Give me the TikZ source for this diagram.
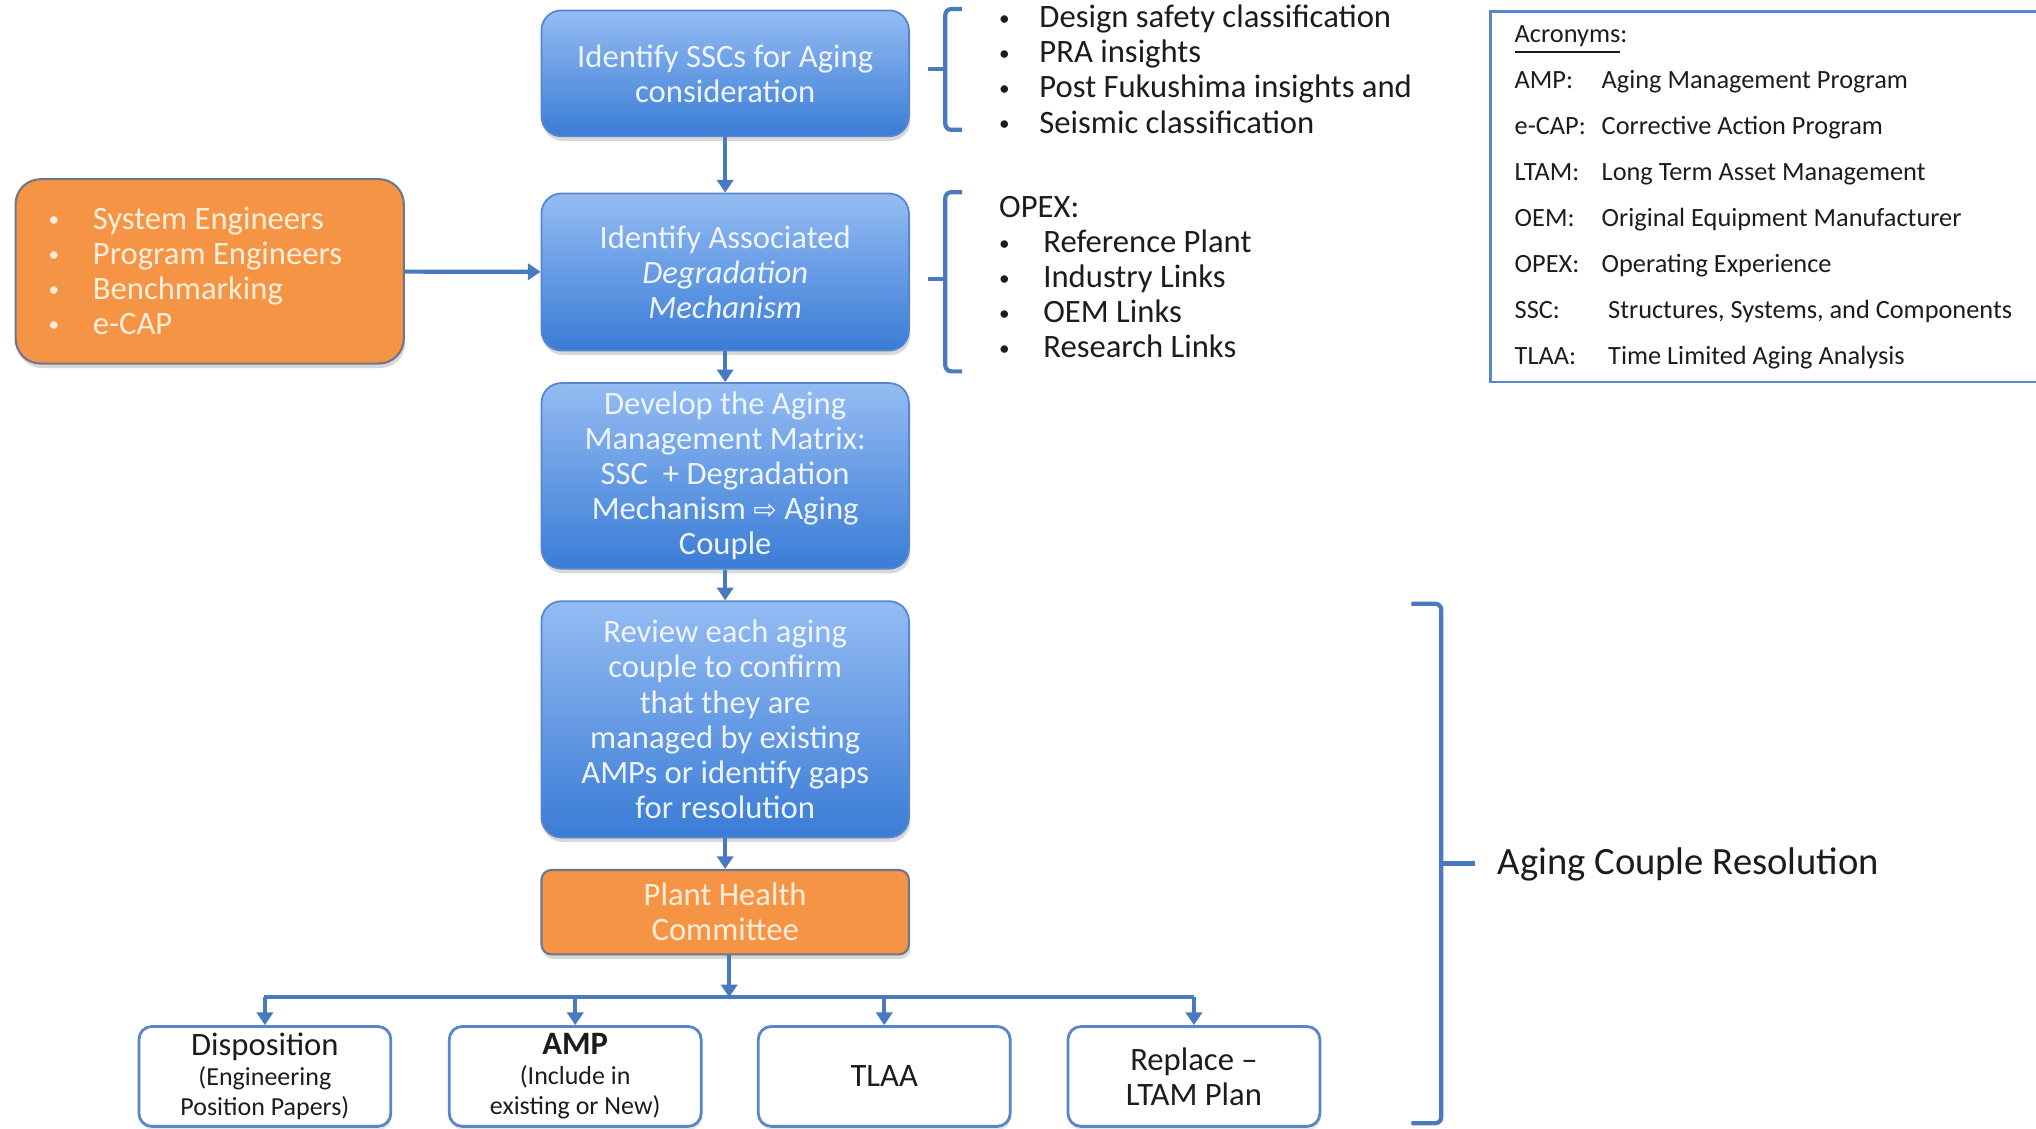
\documentclass[tikz,border=0pt]{standalone}
\usepackage{fontspec}
\usepackage{graphicx}
\setmainfont{Carlito}
\newfontfamily\symfont{DejaVu Sans}
\usetikzlibrary{arrows.meta,shadows,calc}
\definecolor{blueT}{RGB}{148,188,243}
\definecolor{blueB}{RGB}{58,124,214}
\definecolor{blueD}{RGB}{88,134,204}
\definecolor{conn}{RGB}{72,122,192}
\definecolor{orng}{RGB}{246,148,70}
\definecolor{orngD}{RGB}{108,118,140}
\definecolor{boxtxt}{RGB}{238,244,253}
\definecolor{otxt}{RGB}{253,238,218}
\definecolor{txt}{RGB}{28,28,28}
\newcommand{\smbul}{\raisebox{0.15ex}{\scalebox{0.65}{\textbullet}}}
\begin{document}
\begin{tikzpicture}[x=0.013cm,y=-0.013cm,
  mainf/.style={font=\fontsize{9.3}{10}\selectfont},
  bluebox/.style={draw=blueD, line width=0.5pt, rounded corners=0.2cm,
    top color=blueT, bottom color=blueB, text=boxtxt, align=center,
    inner sep=2pt, mainf, minimum width=3.679cm,
    drop shadow={opacity=0.3, shadow xshift=0.4pt, shadow yshift=-1.3pt}},
  orangebox/.style={draw=orngD, line width=0.6pt, fill=orng, text=otxt,
    align=center, inner sep=2pt, mainf,
    drop shadow={opacity=0.3, shadow xshift=0.4pt, shadow yshift=-1.3pt}},
  whitebox/.style={draw=blueD, line width=0.8pt, fill=white, rounded corners=0.13cm,
    text=txt, align=center, inner xsep=1pt, inner ysep=0pt, font=\fontsize{9.3}{8.6}\selectfont,
    minimum width=2.522cm, minimum height=1.0cm,
    drop shadow={opacity=0.2, shadow xshift=0.3pt, shadow yshift=-1pt}},
  listtext/.style={text=txt, inner sep=0pt, anchor=base west},
  conn/.style={draw=conn, line width=1.2pt},
  arr/.style={conn, -{Triangle[length=3.6pt,width=4.6pt]}},
  brk/.style={draw=conn, line width=1.2pt, rounded corners=0.06cm},
]
\useasboundingbox (0,0) rectangle (1568,869);

% main column
\node[bluebox, minimum height=1.261cm] (b1) at (558.5,56.5)
  {Identify SSCs for Aging\\consideration};
\node[bluebox, minimum height=1.573cm] (b2) at (558.5,209.5)
  {Identify Associated\\\textit{Degradation}\\\textit{Mechanism}};
\node[bluebox, minimum height=1.859cm] (b3) at (558.5,366.5)
  {Develop the Aging\\Management Matrix:\\SSC \ + Degradation\\Mechanism {\symfont\fontsize{8}{10}\selectfont ⇨} Aging\\Couple};
\node[bluebox, minimum height=2.366cm] (b4) at (558.5,554)
  {Review each aging\\couple to confirm\\that they are\\managed by existing\\AMPs or identify gaps\\for resolution};
\node[orangebox, rounded corners=0.1cm, minimum width=3.679cm, minimum height=0.845cm] (b5) at (558.5,702.5)
  {Plant Health\\Committee};

% left input box
\node[orangebox, rounded corners=0.25cm, minimum width=3.887cm, minimum height=1.846cm] (inp) at (161.5,209) {};
\node[listtext, text=otxt, font=\fontsize{9.3}{9.98}\selectfont] (inpl) at (37,176.5)
  {\begin{tabular}[t]{@{}l@{}}
   \makebox[0.442cm][l]{\smbul}System Engineers\\
   \makebox[0.442cm][l]{\smbul}Program Engineers\\
   \makebox[0.442cm][l]{\smbul}Benchmarking\\
   \makebox[0.442cm][l]{\smbul}e-CAP
   \end{tabular}};

% outcome boxes
\node[whitebox] (o1) at (204,829)
  {Disposition\\\fontsize{7.4}{8.6}\selectfont (Engineering\\\fontsize{7.4}{8.6}\selectfont Position Papers)};
\node[whitebox] (o2) at (443,829)
  {\textbf{AMP}\\\fontsize{7.4}{8.6}\selectfont (Include in\\\fontsize{7.4}{8.6}\selectfont existing or New)};
\node[whitebox] (o3) at (681,829) {TLAA};
\node[whitebox, font=\fontsize{9.3}{10}\selectfont] (o4) at (919.5,829) {Replace --\\LTAM Plan};

% connectors
\draw[arr] (b1) -- (b2);
\draw[arr] (b2) -- (b3);
\draw[arr] (b3) -- (b4);
\draw[arr] (b4) -- (b5);
\draw[arr] (inp) -- (b2);
\coordinate (busL) at (203,768);
\coordinate (busR) at (919.5,768);
\draw[conn] (busL) -- (busR);
\draw[arr] ([xshift=0.04cm]b5.south) -- ([xshift=0.04cm]b5.south |- busL);
\draw[arr] (o1.north |- busL) -- (o1.north);
\draw[arr] (o2.north |- busL) -- (o2.north);
\draw[arr] (o3.north |- busL) -- (o3.north);
\draw[arr] (o4.north |- busL) -- (o4.north);

% brackets
\draw[brk] (741,7) -- (728,7) -- (728,100) -- (741,100);
\draw[conn] (728,53) -- (715,53);
\draw[brk] (741,148) -- (728,148) -- (728,286) -- (741,286);
\draw[conn] (728,215) -- (715,215);
\draw[brk] (1087,465) -- (1110,465) -- (1110,865) -- (1087,865);
\draw[conn] (1110,665) -- (1136,665);

% right lists
\node[listtext, font=\fontsize{9.3}{9.98}\selectfont] (l1) at (769,21.5)
  {\begin{tabular}[t]{@{}l@{}}
   \makebox[0.403cm][l]{\smbul}Design safety classification\\
   \makebox[0.403cm][l]{\smbul}PRA insights\\
   \makebox[0.403cm][l]{\smbul}Post Fukushima insights and\\
   \makebox[0.403cm][l]{\smbul}Seismic classification
   \end{tabular}};
\node[listtext, font=\fontsize{9.3}{9.98}\selectfont] (l2) at (769,167.5)
  {\begin{tabular}[t]{@{}l@{}}
   OPEX:\\
   \makebox[0.442cm][l]{\smbul}Reference Plant\\
   \makebox[0.442cm][l]{\smbul}Industry Links\\
   \makebox[0.442cm][l]{\smbul}OEM Links\\
   \makebox[0.442cm][l]{\smbul}Research Links
   \end{tabular}};

% acronyms
\draw[draw=blueD, line width=0.7pt] (1569,9) -- (1148,9) -- (1148,294) -- (1569,294);
\node[listtext, font=\fontsize{7.5}{13.1}\selectfont] (acr) at (1166,33)
  {\begin{tabular}[t]{@{}l@{}}
   \underline{Acronyms}:\\
   \makebox[0.871cm][l]{AMP:}Aging Management Program\\
   \makebox[0.871cm][l]{e-CAP:}Corrective Action Program\\
   \makebox[0.871cm][l]{LTAM:}Long Term Asset Management\\
   \makebox[0.871cm][l]{OEM:}Original Equipment Manufacturer\\
   \makebox[0.871cm][l]{OPEX:}Operating Experience\\
   \makebox[0.936cm][l]{SSC:}Structures, Systems, and Components\\
   \makebox[0.936cm][l]{TLAA:}Time Limited Aging Analysis
   \end{tabular}};

\node[listtext, font=\fontsize{11}{13}\selectfont] (acres) at (1153,673.5) {Aging Couple Resolution};
\end{tikzpicture}
\end{document}
